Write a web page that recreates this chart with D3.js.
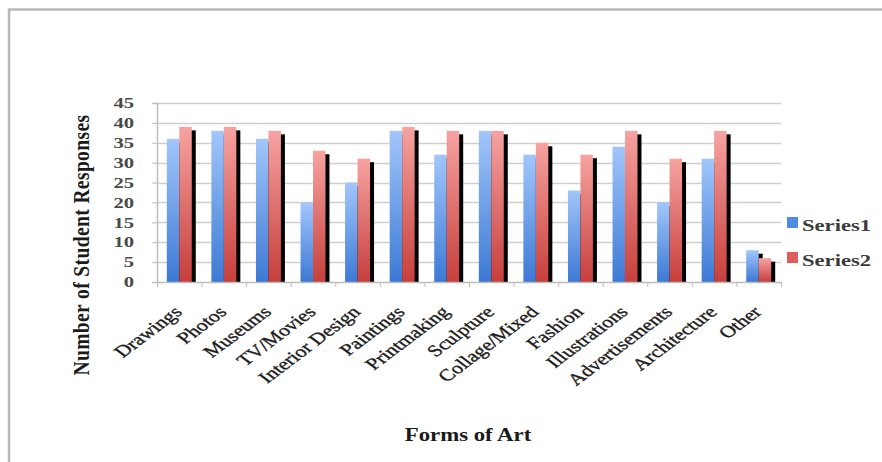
<!DOCTYPE html>
<html>
<head>
<meta charset="utf-8">
<script src="https://cdn.jsdelivr.net/npm/d3@7/dist/d3.min.js"></script>
<style>
  html, body { margin: 0; padding: 0; background: #fff; }
  svg { display: block; }
  text { font-family: "Liberation Serif", "DejaVu Serif", serif; }
</style>
</head>
<body>
<svg id="chart" width="882" height="462"></svg>
<script>
// Survey results: forms of art named by students
const categories = ["Drawings", "Photos", "Museums", "TV/Movies", "Interior Design", "Paintings",
  "Printmaking", "Sculpture", "Collage/Mixed", "Fashion", "Illustrations", "Advertisements",
  "Architecture", "Other"];
const series1 = [36, 38, 36, 20, 25, 38, 32, 38, 32, 23, 34, 20, 31, 8];
const series2 = [39, 39, 38, 33, 31, 39, 38, 38, 35, 32, 38, 31, 38, 6];
const seriesNames = ["Series1", "Series2"];
const yTicks = [0, 5, 10, 15, 20, 25, 30, 35, 40, 45];

const svg = d3.select("#chart");
const W = 882, H = 462;
const plot = { left: 157, right: 781, top: 103, bottom: 282 };
const SX = 1.33; // wide lettering: text is drawn stretched horizontally

// outer frame
svg.append("rect")
  .attr("x", 9).attr("y", 9.5).attr("width", W + 20).attr("height", H + 20)
  .attr("fill", "#fff").attr("stroke", "#b8b8b8").attr("stroke-width", 2.5);

const defs = svg.append("defs");
function vGrad(id, top, bottom) {
  const g = defs.append("linearGradient").attr("id", id)
    .attr("x1", 0).attr("y1", 0).attr("x2", 0).attr("y2", 1);
  g.append("stop").attr("offset", "0%").attr("stop-color", top);
  g.append("stop").attr("offset", "100%").attr("stop-color", bottom);
}
vGrad("g-s1", "#a2c6fb", "#3c79d4");
vGrad("g-s2", "#f6a3a1", "#c63f3c");
const fills = ["url(#g-s1)", "url(#g-s2)"];
const legendFills = ["#4f8be0", "#de5c5a"];

const x = d3.scaleBand().domain(categories).range([plot.left, plot.right]).paddingInner(0).paddingOuter(0);
const y = d3.scaleLinear().domain([0, 45]).range([plot.bottom, plot.top]);
const bandW = x.bandwidth();
const barW = bandW * 0.28;
const gap = (bandW - 2 * barW) / 2;

// horizontal gridlines
svg.append("g")
  .selectAll("line").data(yTicks.filter(t => t > 0)).join("line")
  .attr("x1", plot.left).attr("x2", plot.right)
  .attr("y1", d => Math.round(y(d)) + 0.5).attr("y2", d => Math.round(y(d)) + 0.5)
  .attr("stroke", "#cfcfcf").attr("stroke-width", 1.5);

// y axis (line + tick marks from d3, labels drawn stretched)
const yAxis = d3.axisLeft(y).tickValues(yTicks).tickSize(5).tickFormat("");
const gy = svg.append("g").attr("transform", `translate(${plot.left},0)`).call(yAxis);
gy.select(".domain").attr("stroke", "#bdbdbd").attr("stroke-width", 1.5);
gy.selectAll(".tick line").attr("stroke", "#bdbdbd");
svg.append("g").selectAll("text").data(yTicks).join("text")
  .attr("transform", d => `translate(134,${y(d)}) scale(${SX},1)`)
  .attr("text-anchor", "end").attr("dy", "0.34em")
  .attr("font-size", 15.5).attr("font-weight", "bold").attr("fill", "#4a4a4a")
  .text(d => d);

// bars with drop shadows
const seriesData = [series1, series2];
const barsG = svg.append("g");
categories.forEach((c, i) => {
  seriesData.forEach((vals, s) => {
    const bx = x(c) + gap + s * barW;
    const by = y(vals[i]);
    barsG.append("rect")
      .attr("x", bx + 4).attr("y", by + 3.5)
      .attr("width", barW).attr("height", plot.bottom - by - 3.5)
      .attr("fill", "#000");
    barsG.append("rect")
      .attr("x", bx).attr("y", by)
      .attr("width", barW).attr("height", plot.bottom - by)
      .attr("fill", fills[s]);
  });
});

// x axis
const xAxis = d3.axisBottom(x).tickSize(0).tickFormat("");
const gx = svg.append("g").attr("transform", `translate(0,${plot.bottom})`).call(xAxis);
gx.select(".domain").attr("stroke", "#bdbdbd").attr("stroke-width", 1.5);
svg.append("g").selectAll("line")
  .data(categories.map(c => x(c)).concat([plot.right])).join("line")
  .attr("x1", d => d + 0.5).attr("x2", d => d + 0.5)
  .attr("y1", plot.bottom).attr("y2", plot.bottom + 5)
  .attr("stroke", "#bdbdbd");

// category labels, rotated
svg.append("g").selectAll("text").data(categories).join("text")
  .attr("transform", d => `translate(${x(d) + bandW / 2 + 4},${plot.bottom + 31}) scale(${SX},1) rotate(-45)`)
  .attr("text-anchor", "end")
  .attr("font-size", 16.5).attr("fill", "#1c1c1c")
  .attr("stroke", "#1c1c1c").attr("stroke-width", 0.35)
  .text(d => d);

// axis titles
svg.append("text")
  .attr("transform", `translate(89,245) scale(1.2,1) rotate(-90)`)
  .attr("text-anchor", "middle")
  .attr("font-size", 19.5).attr("font-weight", "bold").attr("fill", "#1a1a1a")
  .attr("letter-spacing", 0.4)
  .text("Number of Student Responses");
svg.append("text")
  .attr("transform", `translate(468,441) scale(1.2,1)`)
  .attr("text-anchor", "middle")
  .attr("font-size", 19).attr("font-weight", "bold").attr("fill", "#1a1a1a")
  .text("Forms of Art");

// legend
const legend = svg.append("g").attr("transform", "translate(787,217)");
seriesNames.forEach((n, i) => {
  const g = legend.append("g").attr("transform", `translate(0,${i * 35})`);
  g.append("rect").attr("width", 11).attr("height", 11).attr("fill", legendFills[i]);
  g.append("text").attr("transform", `translate(15,13.5) scale(${SX},1)`)
    .attr("font-size", 17).attr("font-weight", "bold").attr("fill", "#3a3a3a")
    .text(n);
});
</script>
</body>
</html>
